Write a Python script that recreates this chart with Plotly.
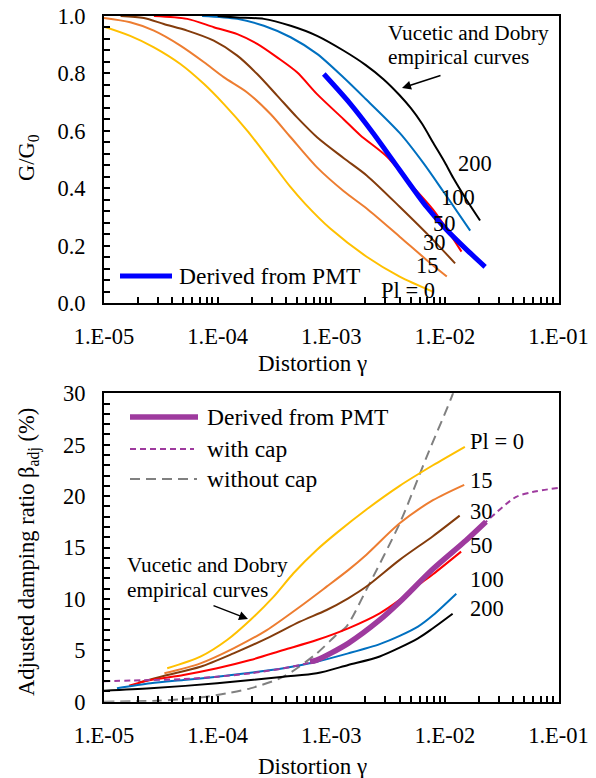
import plotly.graph_objects as go

W, H = 596, 778
FONT = "Liberation Serif, Times New Roman, serif"

# ---------------- data: top panel (G/G0 vs distortion) ----------------
pi0_g = [1e-5, 1.7e-5, 2.75e-5, 4.7e-5, 7.6e-5, 1.13e-4, 1.82e-4, 2.92e-4, 4.39e-4, 5.9e-4, 9.8e-4, 2.05e-3, 4e-3, 7.9e-3]
pi0_G = [0.963, 0.931, 0.891, 0.833, 0.763, 0.694, 0.601, 0.496, 0.404, 0.346, 0.26, 0.162, 0.093, 0.04]

pi15_g = [1e-5, 1.7e-5, 2.75e-5, 4.7e-5, 7.6e-5, 1.13e-4, 1.82e-4, 2.92e-4, 4.39e-4, 7.5e-4, 1.29e-3, 2.05e-3, 4e-3, 6.9e-3, 1.04e-2]
pi15_G = [0.993, 0.978, 0.949, 0.897, 0.839, 0.787, 0.734, 0.659, 0.578, 0.473, 0.39, 0.33, 0.232, 0.151, 0.093]

pi30_g = [1.4e-5, 2.24e-5, 3.36e-5, 5.4e-5, 9.25e-5, 1.49e-4, 2.23e-4, 3.34e-4, 5e-4, 7.5e-4, 1.29e-3, 2.05e-3, 4e-3, 7.9e-3, 1.23e-2]
pi30_G = [1.0, 0.993, 0.972, 0.949, 0.914, 0.862, 0.798, 0.723, 0.647, 0.578, 0.505, 0.445, 0.336, 0.22, 0.139]

pi50_g = [2.75e-5, 5.4e-5, 9.25e-5, 1.49e-4, 2.23e-4, 3.34e-4, 5e-4, 7.5e-4, 1.29e-3, 1.8e-3, 3.1e-3, 4.9e-3, 7.9e-3, 1.4e-2]
pi50_G = [1.0, 0.99, 0.961, 0.937, 0.903, 0.856, 0.804, 0.728, 0.64, 0.585, 0.51, 0.418, 0.325, 0.18]

pi100_g = [7.3e-5, 1.49e-4, 2.55e-4, 4.39e-4, 7.5e-4, 1.29e-3, 2e-3, 4e-3, 6.5e-3, 9.7e-3, 1.67e-2]
pi100_G = [1.0, 0.99, 0.966, 0.926, 0.868, 0.785, 0.712, 0.593, 0.487, 0.389, 0.253]

pi200_g = [1e-4, 1.48e-4, 2.55e-4, 4.39e-4, 7.5e-4, 1.29e-3, 2e-3, 2.88e-3, 3.98e-3, 5e-3, 6.3e-3, 7.94e-3, 1e-2, 1.19e-2, 1.58e-2, 2.04e-2]
pi200_G = [1.0, 0.995, 0.99, 0.966, 0.931, 0.879, 0.83, 0.78, 0.725, 0.68, 0.625, 0.557, 0.49, 0.435, 0.355, 0.288]

pmt_g = [8.6e-4, 1.46e-3, 2.34e-3, 4e-3, 6.9e-3, 1.04e-2, 1.56e-2, 2.26e-2]
pmt_G = [0.798, 0.696, 0.592, 0.464, 0.336, 0.255, 0.186, 0.127]

# ---------------- data: bottom panel (damping ratio %) ----------------
d0_g = [3.6e-5, 7.05e-5, 1.21e-4, 1.94e-4, 3.1e-4, 4.65e-4, 7.45e-4, 1.11e-3, 2.04e-3, 4e-3, 7.85e-3, 1.5e-2]
d0_b = [3.25, 4.38, 6.0, 7.95, 10.2, 12.5, 14.76, 16.4, 18.7, 21.0, 23.0, 24.8]

d15_g = [3.4e-5, 7.05e-5, 1.38e-4, 2.71e-4, 5.3e-4, 9.1e-4, 1.41e-3, 2.04e-3, 4e-3, 7.85e-3, 1.48e-2]
d15_b = [2.76, 3.73, 5.19, 6.97, 9.24, 11.19, 12.8, 14.3, 17.35, 19.6, 21.1]

d30_g = [2e-5, 3.4e-5, 7.05e-5, 1.38e-4, 2.71e-4, 5.3e-4, 9.1e-4, 1.41e-3, 2.04e-3, 4e-3, 7.85e-3, 1.35e-2]
d30_b = [1.85, 2.53, 3.4, 4.7, 6.16, 7.78, 8.92, 10.06, 11.2, 13.8, 16.1, 18.1]

d50_g = [1.66e-5, 2.57e-5, 5e-5, 9.9e-5, 1.94e-4, 3.8e-4, 7.45e-4, 1.41e-3, 2.67e-3, 4e-3, 5.6e-3, 7.85e-3, 1.39e-2]
d50_b = [1.56, 2.11, 2.6, 3.25, 4.05, 5.03, 6.0, 7.14, 8.6, 9.9, 11.2, 12.4, 14.6]

d100_g = [1.3e-5, 2.57e-5, 5e-5, 9.9e-5, 1.94e-4, 3.8e-4, 7.45e-4, 1.41e-3, 2.67e-3, 4e-3, 5.8e-3, 7.85e-3, 1.26e-2]
d100_b = [1.3, 1.79, 2.11, 2.43, 2.82, 3.25, 3.89, 4.7, 5.6, 6.4, 7.3, 8.4, 10.5]

d200_g = [1e-5, 2.57e-5, 9.9e-5, 3.8e-4, 7.45e-4, 1.41e-3, 2.67e-3, 5.8e-3, 7.85e-3, 1.17e-2]
d200_b = [1.07, 1.3, 1.79, 2.43, 2.76, 3.57, 4.4, 6.16, 7.14, 8.55]

cap_g = [1e-5, 2.57e-5, 5e-5, 9.9e-5, 1.94e-4, 3.8e-4, 6.1e-4, 7.45e-4, 1.41e-3, 2.67e-3, 4e-3, 7.85e-3, 1.54e-2, 2.3e-2, 4.2e-2, 5.9e-2, 1e-1]
cap_b = [2.0, 2.11, 2.2, 2.43, 2.76, 3.25, 3.73, 4.05, 5.68, 7.95, 9.7, 12.9, 15.7, 17.5, 19.9, 20.4, 20.8]

pmtd_g = [6.5e-4, 7.45e-4, 1.41e-3, 2.67e-3, 4e-3, 7.85e-3, 1.54e-2, 2.3e-2]
pmtd_b = [3.9, 4.05, 5.68, 7.95, 9.7, 12.9, 15.7, 17.5]

nocap_g = [1e-5, 3e-5, 7e-5, 1.21e-4, 1.94e-4, 3.8e-4, 7.45e-4, 1.11e-3, 1.36e-3, 2.04e-3, 4e-3, 6.9e-3, 1.17e-2, 1.3e-2]
nocap_b = [0.0, 0.1, 0.4, 0.82, 1.3, 2.43, 4.7, 6.5, 7.3, 10.9, 17.35, 23.8, 29.9, 31.5]

x_major = [1e-5, 1e-4, 1e-3, 1e-2, 1e-1]
x_labels = ["1.E-05", "1.E-04", "1.E-03", "1.E-02", "1.E-01"]
x_minor = [m * 10 ** e for e in range(-5, -1) for m in range(2, 10)]

C_YEL, C_ORA, C_BRO, C_RED, C_BLU, C_BLK = "#FFC000", "#ED7D31", "#843C0C", "#FF0000", "#0070C0", "#000000"
C_PMT = "#0000FF"
C_PUR = "#9E3A9E"
C_GRY = "#808080"

fig = go.Figure()

def line(x, y, color, width, xa, ya, dash="solid"):
    fig.add_trace(go.Scatter(x=x, y=y, mode="lines", xaxis=xa, yaxis=ya,
                             line=dict(color=color, width=width, dash=dash, shape="spline", smoothing=0.8),
                             showlegend=False, hoverinfo="skip"))

for g, v, c in [(pi0_g, pi0_G, C_YEL), (pi15_g, pi15_G, C_ORA), (pi30_g, pi30_G, C_BRO),
                (pi50_g, pi50_G, C_RED), (pi100_g, pi100_G, C_BLU), (pi200_g, pi200_G, C_BLK)]:
    line(g, v, c, 2, "x", "y")
line(pmt_g, pmt_G, C_PMT, 5, "x", "y")

line(nocap_g, nocap_b, C_GRY, 2, "x2", "y2", dash="10px,6px")
for g, v, c in [(d0_g, d0_b, C_YEL), (d15_g, d15_b, C_ORA), (d30_g, d30_b, C_BRO),
                (d50_g, d50_b, C_RED), (d100_g, d100_b, C_BLU), (d200_g, d200_b, C_BLK)]:
    line(g, v, c, 2, "x2", "y2")
line(cap_g, cap_b, C_PUR, 2, "x2", "y2", dash="6px,4px")
line(pmtd_g, pmtd_b, C_PUR, 5.5, "x2", "y2")

def px(x): return x / W
def py(y): return 1 - y / H

XD = [px(104), px(558.5)]
tickfont = dict(family=FONT, size=22.5, color="black")
xcommon = dict(type="log", range=[-5, -1], domain=XD, tickmode="array", tickvals=x_major, ticktext=x_labels,
               ticks="inside", ticklen=6, tickwidth=1.5, tickcolor="black", showline=True, linewidth=2,
               linecolor="black", mirror=True, showgrid=False, zeroline=False, tickfont=tickfont,
               ticklabelstandoff=12, automargin=False,
               minor=dict(tickmode="array", tickvals=x_minor, ticks="inside", ticklen=6, tickwidth=1.5,
                          tickcolor="black", showgrid=False))
ycommon = dict(ticks="inside", ticklen=6, tickwidth=1.5, tickcolor="black", showline=True, linewidth=2,
               linecolor="black", mirror=True, showgrid=False, zeroline=False, tickfont=tickfont,
               ticklabelstandoff=12, automargin=False)

fig.update_layout(
    width=W, height=H, margin=dict(l=0, r=0, t=0, b=0, pad=0, autoexpand=False),
    paper_bgcolor="white", plot_bgcolor="white",
    font=dict(family=FONT, size=22, color="black"),
    xaxis=dict(anchor="y", **xcommon),
    xaxis2=dict(anchor="y2", **xcommon),
    yaxis=dict(anchor="x", domain=[py(303.3), py(16)], range=[0, 1], dtick=0.2, tickformat=".1f",
               minor=dict(dtick=0.04, ticks="inside", ticklen=6, tickwidth=1.5, tickcolor="black", showgrid=False),
               **ycommon),
    yaxis2=dict(anchor="x2", domain=[py(701.7), py(393.3)], range=[0, 30], dtick=5,
                minor=dict(dtick=1, ticks="inside", ticklen=6, tickwidth=1.5, tickcolor="black", showgrid=False),
                **ycommon),
)

ann = []
def text(x, y, s, xanchor="center", angle=0, size=22.5):
    ann.append(dict(x=px(x), y=py(y), xref="paper", yref="paper", text=s, showarrow=False,
                    xanchor=xanchor, yanchor="middle", textangle=angle,
                    font=dict(family=FONT, size=size, color="black")))

# axis titles
text(28, 158, "G/G<sub>0</sub>", angle=-90)
text(312, 364, "Distortion γ", size=23)
text(28, 552, "Adjusted damping ratio β<sub>adj</sub> (%)", angle=-90)
text(312, 766, "Distortion γ", size=23)

# top panel labels
text(386, 33, "Vucetic and Dobry", xanchor="left", size=21.3)
text(386, 57, "empirical curves", xanchor="left", size=21.3)
text(475, 164, "200")
text(458, 198, "100")
text(445, 223, "50")
text(434, 242, "30")
text(427, 265, "15")
text(408, 290, "Pl = 0")
text(177, 276, "Derived from PMT", xanchor="left", size=23.5)

# bottom panel labels
text(205, 417, "Derived from PMT", xanchor="left", size=23.5)
text(205, 449, "with cap", xanchor="left", size=23.5)
text(205, 479, "without cap", xanchor="left", size=23.5)
text(125, 565, "Vucetic and Dobry", xanchor="left", size=21.3)
text(125, 590, "empirical curves", xanchor="left", size=21.3)
text(468, 442, "Pl = 0", xanchor="left")
text(468, 480, "15", xanchor="left")
text(468, 512, "30", xanchor="left")
text(468, 545, "50", xanchor="left")
text(468, 579, "100", xanchor="left")
text(468, 608, "200", xanchor="left")

# arrows (head at x1,y1; tail offset in pixels)
def arrow(x0, y0, x1, y1):
    ann.append(dict(x=px(x1), y=py(y1), xref="paper", yref="paper",
                    axref="pixel", ayref="pixel", ax=x0 - x1, ay=y0 - y1, text="", showarrow=True,
                    arrowhead=2, arrowsize=1.2, arrowwidth=1.5, arrowcolor="black", standoff=0))
arrow(442, 75, 402, 88)
arrow(212, 605, 248, 619)

fig.update_layout(annotations=ann)

# legend samples (decoration)
shapes = [
    dict(type="line", xref="paper", yref="paper", x0=px(120), x1=px(172), y0=py(276), y1=py(276),
         line=dict(color=C_PMT, width=5)),
    dict(type="line", xref="paper", yref="paper", x0=px(130), x1=px(198), y0=py(417), y1=py(417),
         line=dict(color=C_PUR, width=5.5)),
    dict(type="line", xref="paper", yref="paper", x0=px(130), x1=px(194), y0=py(449), y1=py(449),
         line=dict(color=C_PUR, width=2, dash="6px,4px")),
    dict(type="line", xref="paper", yref="paper", x0=px(130), x1=px(197), y0=py(479), y1=py(479),
         line=dict(color=C_GRY, width=2, dash="10px,6px")),
]
fig.update_layout(shapes=shapes)

fig.write_html("out.html")
